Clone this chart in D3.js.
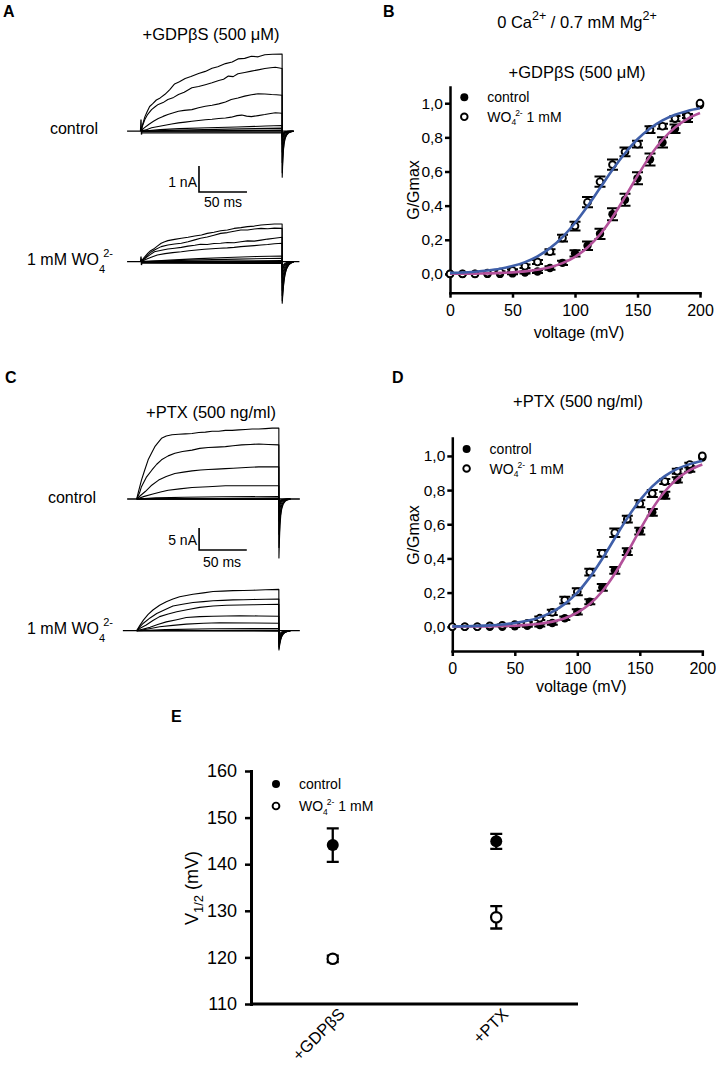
<!DOCTYPE html>
<html><head><meta charset="utf-8">
<script src="https://cdn.jsdelivr.net/npm/d3@7"></script>
<style>body{margin:0;background:#fff;} svg{display:block;}</style>
</head><body>
<svg id="c" width="716" height="1066"></svg>
<script>
// ================= DATA =================
const voltages = [0,10,20,30,40,50,60,70,80,90,100,110,120,130,140,150,160,170,180,190,200];
const voltageTicks = [0,50,100,150,200];
const gvTicks = [0,0.2,0.4,0.6,0.8,1.0];

// Panel B (+GDPbetaS)
const gdpControl    = [0,0,0,0,0,0.003,0.008,0.014,0.035,0.065,0.12,0.165,0.235,0.35,0.435,0.56,0.67,0.77,0.85,0.91,0.99];
const gdpControlErr = [0,0,0,0,0,0.005,0.006,0.008,0.01,0.012,0.018,0.025,0.03,0.035,0.035,0.035,0.035,0.03,0.025,0.02,0];
const gdpWO4        = [0,0,0,0.005,0.01,0.02,0.045,0.07,0.13,0.21,0.28,0.42,0.54,0.64,0.715,0.76,0.845,0.865,0.91,0.925,1.0];
const gdpWO4Err     = [0,0,0,0,0.005,0.008,0.01,0.012,0.015,0.02,0.025,0.03,0.03,0.03,0.025,0.02,0.02,0.015,0.015,0.012,0];
const gdpFitControl = [0.001,0.001,0.002,0.003,0.006,0.009,0.015,0.024,0.039,0.063,0.100,0.155,0.231,0.332,0.450,0.574,0.690,0.786,0.858,0.909,0.943];
const gdpFitWO4     = [0.006,0.008,0.013,0.020,0.030,0.046,0.069,0.103,0.151,0.216,0.298,0.396,0.503,0.610,0.707,0.789,0.852,0.899,0.932,0.955,0.970];

// Panel D (+PTX)
const ptxControl    = [0,0,0,0,0,0.003,0.005,0.01,0.022,0.05,0.087,0.146,0.23,0.33,0.44,0.56,0.67,0.77,0.86,0.92,0.99];
const ptxControlErr = [0,0,0,0,0,0.005,0.005,0.008,0.01,0.01,0.015,0.015,0.02,0.02,0.02,0.02,0.02,0.02,0.015,0.012,0];
const ptxWO4        = [0,0,0,0.005,0.008,0.012,0.02,0.05,0.084,0.156,0.205,0.32,0.43,0.55,0.63,0.72,0.78,0.85,0.91,0.95,1.0];
const ptxWO4Err     = [0,0,0,0,0.005,0.005,0.008,0.01,0.015,0.02,0.02,0.02,0.02,0.025,0.02,0.02,0.02,0.015,0.015,0.01,0];
const ptxFitControl = [0.000,0.001,0.001,0.002,0.004,0.006,0.011,0.018,0.030,0.050,0.083,0.133,0.208,0.310,0.434,0.566,0.690,0.792,0.867,0.917,0.950];
const ptxFitWO4     = [0.002,0.003,0.005,0.008,0.013,0.022,0.035,0.055,0.087,0.134,0.200,0.289,0.398,0.518,0.636,0.740,0.822,0.882,0.924,0.952,0.970];

// Panel E
const v12Categories = ["+GDPβS", "+PTX"];
const v12Control    = [144.1, 144.9];
const v12ControlErr = [3.6, 1.6];
const v12WO4        = [119.7, 128.6];
const v12WO4Err     = [0.7, 2.4];
const v12Ticks      = [110,120,130,140,150,160];

// Panel A current traces [time ms, current nA]
const gdpCtlTraces = [
 [[0,0],[2,0.3],[4,0.55],[6,0.72],[9,0.95],[12,1.05],[16,1.2],[20,1.28],[25,1.42],[30,1.6],[35,1.82],[40,1.9],[46,2.03],[52,2.1],[60,2.22],[67,2.3],[74,2.42],[80,2.48],[88,2.6],[95,2.66],[101,2.78],[108,2.8],[115,2.88],[122,2.86],[129,2.94],[137,2.96],[147,2.97]],
 [[0,0],[2,0.25],[4,0.45],[7,0.65],[11,0.83],[15,0.95],[18,1.03],[23,1.1],[28,1.22],[34,1.3],[39,1.41],[45,1.5],[53,1.67],[60,1.72],[67,1.79],[74,1.86],[81,1.95],[86,2.0],[91,2.12],[96,2.1],[101,2.21],[108,2.26],[115,2.31],[122,2.36],[129,2.41],[135,2.44],[140,2.46],[147,2.41]],
 [[0,0],[3,0.12],[8,0.26],[13,0.38],[18,0.49],[23,0.57],[28,0.64],[33,0.7],[39,0.77],[45,0.8],[53,0.83],[60,0.9],[67,0.96],[74,1.0],[81,1.05],[88,1.12],[94,1.22],[101,1.28],[108,1.35],[115,1.4],[122,1.44],[129,1.43],[136,1.41],[141,1.4],[147,1.38]],
 [[0,0],[5,0.05],[11,0.13],[18,0.18],[25,0.23],[32,0.28],[39,0.32],[46,0.35],[53,0.38],[60,0.41],[67,0.44],[74,0.46],[81,0.49],[88,0.51],[94,0.54],[100,0.6],[105,0.62],[110,0.58],[115,0.56],[122,0.6],[129,0.64],[135,0.68],[140,0.71],[147,0.69]],
 [[0,0],[20,0.06],[40,0.1],[70,0.13],[100,0.16],[130,0.2],[147,0.22]],
 [[0,0],[40,0.04],[90,0.08],[147,0.12]],
 [[0,0],[147,0.04]],
 [[0,-0.03],[147,-0.04]],
 [[0,-0.07],[147,-0.07]]
];
const gdpCtlTailPeaks = [-1.77,-1.6,-1.2,-0.8,-0.5,-0.35,-0.25,-0.2,-0.15];
const gdpCtlOnset = [[-0.5,0],[0,0.45],[0.5,-0.13],[1.2,0.1],[2,0]];

const gdpWoTraces = [
 [[0,0],[3,0.15],[7,0.32],[10,0.42],[14,0.51],[17,0.6],[21,0.71],[24,0.76],[28,0.81],[35,0.86],[42,0.9],[49,0.94],[56,0.99],[63,1.03],[69,1.09],[76,1.13],[83,1.19],[90,1.22],[97,1.28],[104,1.31],[111,1.35],[118,1.37],[125,1.41],[132,1.43],[139,1.45],[147,1.45]],
 [[0,0],[4,0.14],[7,0.26],[11,0.38],[15,0.47],[21,0.58],[28,0.64],[35,0.68],[42,0.71],[49,0.77],[56,0.84],[62,0.9],[69,0.95],[76,1.02],[83,1.09],[90,1.12],[97,1.17],[104,1.22],[111,1.22],[118,1.26],[125,1.28],[132,1.27],[139,1.29],[147,1.28]],
 [[0,0],[5,0.15],[10,0.28],[14,0.38],[20,0.43],[28,0.49],[35,0.52],[42,0.55],[49,0.6],[56,0.63],[62,0.67],[69,0.66],[76,0.7],[83,0.71],[90,0.74],[97,0.73],[104,0.77],[111,0.8],[118,0.79],[125,0.83],[132,0.87],[139,0.9],[147,0.94]],
 [[0,0],[6,0.1],[12,0.19],[17,0.26],[25,0.31],[33,0.35],[42,0.38],[50,0.42],[58,0.45],[66,0.48],[74,0.5],[82,0.52],[90,0.53],[97,0.55],[104,0.58],[111,0.6],[118,0.62],[125,0.64],[132,0.66],[139,0.69],[147,0.71]],
 [[0,0],[30,0.06],[60,0.12],[90,0.16],[120,0.2],[147,0.22]],
 [[0,0],[50,0.06],[100,0.1],[147,0.13]],
 [[0,0.02],[147,0.04]],
 [[0,-0.03],[147,-0.03]],
 [[0,-0.06],[147,-0.07]]
];
const gdpWoTailPeaks = [-1.6,-1.5,-1.3,-1.1,-0.8,-0.6,-0.4,-0.3,-0.2];
const gdpWoOnset = [[-0.5,0],[0,0.2],[0.5,-0.13],[1.2,0.05],[2,0]];

// Panel C current traces
const ptxCtlTraces = [
 [[0,0],[2,1.8],[5,4.3],[8,6.3],[12,8.9],[16,10.6],[19,11.9],[23,13.0],[26,13.8],[31,14.3],[37,14.6],[44,14.7],[51,14.8],[58,14.9],[65,15.1],[72,15.2],[79,15.4],[86,15.4],[93,15.6],[100,15.6],[107,15.7],[114,15.8],[121,15.9],[128,15.9],[135,16.0],[142,16.1],[149,16.1]],
 [[0,0],[3,1.4],[5,2.8],[10,4.9],[16,6.6],[21,7.9],[26,8.9],[33,9.8],[40,10.4],[48,10.8],[58,11.1],[66,11.5],[75,11.7],[84,11.8],[93,11.9],[101,12.1],[110,12.3],[119,12.4],[128,12.5],[138,12.4],[149,12.3]],
 [[0,0],[4,0.8],[9,1.7],[15,3.0],[23,4.3],[31,5.1],[40,5.8],[49,6.1],[58,6.4],[67,6.6],[75,6.7],[84,6.8],[93,6.9],[101,7.0],[110,7.1],[119,7.2],[128,7.3],[138,7.3],[149,7.3]],
 [[0,0],[8,0.6],[16,1.1],[25,1.6],[33,2.0],[45,2.3],[58,2.6],[75,2.8],[93,3.0],[110,3.0],[128,3.0],[149,3.0]],
 [[0,0],[20,0.25],[50,0.4],[90,0.5],[149,0.55]],
 [[0,0],[149,0.2]],
 [[0,0],[149,0.05]],
 [[0,0],[149,-0.1]]
];
const ptxCtlTailPeaks = [-13.4,-11,-8,-5,-3,-2,-1.5,-1];

const ptxWoTraces = [
 [[0,0],[3,1.1],[7,2.4],[12,3.7],[17,4.7],[24,5.8],[31,6.6],[38,7.2],[45,7.7],[52,8.0],[59,8.3],[70,8.6],[80,8.9],[90,9.0],[101,9.1],[112,9.15],[122,9.2],[135,9.3],[149,9.4]],
 [[0,0],[3,0.8],[7,1.7],[14,2.9],[21,3.9],[30,4.8],[38,5.6],[48,6.0],[59,6.4],[70,6.6],[80,6.8],[90,6.9],[101,7.0],[112,7.05],[122,7.1],[135,7.15],[149,7.2]],
 [[0,0],[4,0.6],[10,1.3],[17,2.3],[24,3.2],[33,3.8],[42,4.3],[54,4.8],[66,5.3],[80,5.6],[94,5.8],[108,5.85],[122,5.9],[135,5.95],[149,6.0]],
 [[0,0],[7,0.4],[14,0.76],[22,1.4],[31,2.0],[42,2.5],[52,3.0],[66,3.2],[80,3.3],[94,3.35],[108,3.4],[128,3.35],[149,3.3]],
 [[0,0],[12,0.4],[24,0.9],[38,1.2],[52,1.5],[70,1.7],[87,1.8],[120,1.75],[149,1.7]],
 [[0,0],[30,0.25],[80,0.45],[149,0.5]],
 [[0,0],[149,0.1]],
 [[0,0],[149,-0.1]]
];
const ptxWoTailPeaks = [-4.4,-4,-3.6,-3,-2.5,-2,-1.5,-1];

// tail current decay shapes [ms after pulse end, fraction of peak]
const tailShapeFast = [[0.1,1],[0.6,0.7],[1.2,0.45],[2,0.28],[3,0.17],[4.5,0.09],[6.5,0.04],[9,0.015],[12,0]];
const tailShapeSlow = [[0.1,1],[0.6,0.82],[1.2,0.64],[2,0.46],[3,0.31],[4.5,0.18],[6.5,0.09],[9,0.035],[12,0]];

// ================= DRAWING =================
const FONT = '"Liberation Sans", Arial, Helvetica, sans-serif';
const svg = d3.select("#c");
const BLUE = "#3f5fa9", MAGENTA = "#b3509a";
const commaFmt = d => d3.format(".1f")(d).replace(".", ",");

function txt(x, y, s, size, opts = {}) {
  const t = svg.append("text").attr("x", x).attr("y", y).attr("font-size", size)
    .attr("font-family", FONT).attr("fill", "#000").attr("text-anchor", opts.anchor || "start")
    .attr("font-weight", opts.bold ? "bold" : "normal").text(s);
  return t;
}
function rich(parent, x, y, size, parts, anchor) {
  const t = parent.append("text").attr("x", x).attr("y", y).attr("font-size", size)
    .attr("font-family", FONT).attr("fill", "#000").attr("text-anchor", anchor || "start");
  let cur = 0;
  parts.forEach(p => {
    const ts = t.append("tspan").text(p.t);
    const target = p.s || 0;
    if (target - cur !== 0) ts.attr("dy", target - cur);
    cur = target;
    if (p.fs) ts.attr("font-size", p.fs);
    if (p.dx) ts.attr("dx", p.dx);
  });
  return t;
}
function styleAxis(g, fs) {
  g.select(".domain").attr("stroke", "#000").attr("stroke-width", 2.5).attr("stroke-linecap", "square");
  g.selectAll(".tick line").attr("stroke", "#000").attr("stroke-width", 2.5);
  g.selectAll(".tick text").attr("font-size", fs).attr("font-family", FONT).attr("fill", "#000");
}

// ---------- panel letters & titles ----------
txt(3, 17, "A", 16, {bold: true});
txt(383, 17, "B", 16, {bold: true});
txt(5, 383, "C", 16, {bold: true});
txt(392, 383, "D", 16, {bold: true});
txt(171, 722, "E", 16, {bold: true});

txt(211, 40, "+GDPβS (500 μM)", 16.5, {anchor: "middle"});
txt(211, 418, "+PTX (500 ng/ml)", 16.5, {anchor: "middle"});
txt(577, 78, "+GDPβS (500 μM)", 16.5, {anchor: "middle"});
txt(578, 407, "+PTX (500 ng/ml)", 16.5, {anchor: "middle"});
rich(svg, 577, 28, 16.5, [{t: "0 Ca"}, {t: "2+", s: -8, fs: 12.5}, {t: " / 0.7 mM Mg", s: 0}, {t: "2+", s: -8, fs: 12.5}], "middle");

// ---------- current traces ----------
function drawTraceSet(cfg) {
  const g = svg.append("g");
  const x = d3.scaleLinear().domain([0, 50]).range([cfg.x0, cfg.x0 + cfg.px50]);
  const y = d3.scaleLinear().domain([0, 1]).range([cfg.base, cfg.base - cfg.pxPerNA]);
  const line = d3.line().x(d => x(d[0])).y(d => y(d[1]));
  g.append("path").datum([[cfg.tStart, 0], [cfg.tEnd, 0]]).attr("d", line)
    .attr("stroke", "#000").attr("stroke-width", 1.3).attr("fill", "none");
  cfg.traces.forEach((tr, i) => {
    const pe = tr[tr.length - 1][0];
    const pts = tr.concat(cfg.tail.map(s => [pe + s[0], cfg.peaks[i] * s[1]]));
    g.append("path").datum(pts).attr("d", line)
      .attr("stroke", "#000").attr("stroke-width", 1.1).attr("fill", "none")
      .attr("stroke-linejoin", "round");
  });
  if (cfg.onset) {
    g.append("path").datum(cfg.onset).attr("d", line)
      .attr("stroke", "#000").attr("stroke-width", 1.3).attr("fill", "none");
  }
  return {x, y};
}

const aCtl = drawTraceSet({x0: 141, px50: 48, base: 131.2, pxPerNA: 26, tStart: -14.5, tEnd: 158,
  traces: gdpCtlTraces, peaks: gdpCtlTailPeaks, tail: tailShapeFast, onset: gdpCtlOnset});
drawTraceSet({x0: 141, px50: 48, base: 261.7, pxPerNA: 26, tStart: -14.5, tEnd: 165,
  traces: gdpWoTraces, peaks: gdpWoTailPeaks, tail: tailShapeSlow, onset: gdpWoOnset});
const cCtl = drawTraceSet({x0: 136.7, px50: 47.7, base: 499, pxPerNA: 4.4, tStart: -10, tEnd: 171,
  traces: ptxCtlTraces, peaks: ptxCtlTailPeaks, tail: tailShapeFast});
drawTraceSet({x0: 136.7, px50: 47.7, base: 630.7, pxPerNA: 4.4, tStart: -14.5, tEnd: 171,
  traces: ptxWoTraces, peaks: ptxWoTailPeaks, tail: tailShapeSlow});

// scale bars
function scaleBar(sc, t0, i0, dt, di) {
  const xa = sc.x(t0), ya = sc.y(i0);
  svg.append("path").attr("d", `M${xa},${sc.y(i0 + di)}V${ya}H${sc.x(t0 + dt)}`)
    .attr("stroke", "#000").attr("stroke-width", 1.6).attr("fill", "none");
}
scaleBar(aCtl, 60.4, -2.34, 50, 1);
scaleBar(cCtl, 65.4, -11.6, 50, 5);
txt(197, 187, "1 nA", 14, {anchor: "end"});
txt(223, 207, "50 ms", 14, {anchor: "middle"});
txt(197, 545, "5 nA", 14, {anchor: "end"});
txt(222, 567, "50 ms", 14, {anchor: "middle"});

txt(98, 133.5, "control", 16, {anchor: "end"});
txt(96, 503, "control", 16, {anchor: "end"});
rich(svg, 27, 265, 16, [{t: "1 mM WO"}, {t: "4", s: 8, fs: 11}, {t: "2-", s: -8, fs: 11, dx: -2}]);
rich(svg, 27, 634, 16, [{t: "1 mM WO"}, {t: "4", s: 8, fs: 11}, {t: "2-", s: -8, fs: 11, dx: -2}]);

// ---------- G/Gmax panels ----------
function woLegend(g, x, y, size) {
  rich(g, x, y, size, [{t: "WO"}, {t: "4", s: 3.5, fs: 8.5}, {t: "2-", s: -6, fs: 8.5, dx: -1}, {t: " 1 mM", s: 0}]);
}
function drawGV(cfg) {
  const g = svg.append("g");
  const x = d3.scaleLinear().domain([0, 200]).range(cfg.xRange);
  const y = d3.scaleLinear().domain(cfg.yDomain).range(cfg.yRange);
  const gx = g.append("g").attr("transform", `translate(0,${cfg.yRange[0]})`)
    .call(d3.axisBottom(x).tickValues(voltageTicks).tickSize(5).tickSizeOuter(0).tickPadding(7));
  styleAxis(gx, 16);
  const gy = g.append("g").attr("transform", `translate(${cfg.xRange[0]},0)`)
    .call(d3.axisLeft(y).tickValues(gvTicks).tickFormat(commaFmt).tickSize(5).tickSizeOuter(0).tickPadding(2));
  styleAxis(gy, 15.5);

  const series = [
    {vals: cfg.ctl, err: cfg.ctlErr, filled: true},
    {vals: cfg.wo, err: cfg.woErr, filled: false}
  ];
  series.forEach(s => {
    const pg = g.append("g");
    voltages.forEach((v, i) => {
      const e = s.err[i], cx = x(v);
      if (e > 0) {
        const y1 = y(s.vals[i] - e), y2 = y(s.vals[i] + e);
        pg.append("path").attr("d", `M${cx},${y1}V${y2}M${cx - 5.5},${y1}H${cx + 5.5}M${cx - 5.5},${y2}H${cx + 5.5}`)
          .attr("stroke", "#000").attr("stroke-width", 2).attr("fill", "none");
      }
    });
    voltages.forEach((v, i) => {
      pg.append("circle").attr("cx", x(v)).attr("cy", y(s.vals[i]))
        .attr("r", s.filled ? 4.2 : 3.4)
        .attr("fill", s.filled ? "#000" : "#fff").attr("stroke", "#000")
        .attr("stroke-width", s.filled ? 0 : 1.9);
    });
  });
  const line = d3.line().x((d, i) => x(voltages[i])).y(d => y(d)).curve(d3.curveMonotoneX);
  g.append("path").datum(cfg.fitCtl).attr("d", line).attr("stroke", MAGENTA).attr("stroke-width", 2.6).attr("fill", "none");
  g.append("path").datum(cfg.fitWo).attr("d", line).attr("stroke", BLUE).attr("stroke-width", 2.6).attr("fill", "none");

  // legend
  const lx = cfg.xRange[0] + 14.3;
  g.append("circle").attr("cx", lx).attr("cy", cfg.legY).attr("r", 4).attr("fill", "#000");
  g.append("circle").attr("cx", lx).attr("cy", cfg.legY + 19.5).attr("r", 3.3).attr("fill", "#fff").attr("stroke", "#000").attr("stroke-width", 1.9);
  g.append("text").attr("x", lx + 23).attr("y", cfg.legY + 5).attr("font-size", 14).attr("font-family", FONT).text("control");
  woLegend(g, lx + 23, cfg.legY + 24.5, 14);

  // labels
  g.append("text").attr("transform", `translate(${cfg.ylabX},${cfg.ylabY}) rotate(-90)`)
    .attr("text-anchor", "middle").attr("font-size", 16).attr("font-family", FONT).text("G/Gmax");
  g.append("text").attr("x", (cfg.xRange[0] + cfg.xRange[1]) / 2 + 4).attr("y", cfg.xlabY)
    .attr("text-anchor", "middle").attr("font-size", 16).attr("font-family", FONT).text("voltage (mV)");
}

drawGV({xRange: [450, 700], yDomain: [-0.11, 1.095], yRange: [292.7, 87],
  ctl: gdpControl, ctlErr: gdpControlErr, wo: gdpWO4, woErr: gdpWO4Err,
  fitCtl: gdpFitControl, fitWo: gdpFitWO4, legY: 97.3, ylabX: 419, ylabY: 190, xlabY: 338});
drawGV({xRange: [452.3, 702.3], yDomain: [-0.142, 1.105], yRange: [651, 438],
  ctl: ptxControl, ctlErr: ptxControlErr, wo: ptxWO4, woErr: ptxWO4Err,
  fitCtl: ptxFitControl, fitWo: ptxFitWO4, legY: 449, ylabX: 419, ylabY: 535, xlabY: 692});

// ---------- Panel E ----------
(function () {
  const g = svg.append("g");
  const x = d3.scalePoint().domain(v12Categories).range([251, 578]).padding(0.5);
  const y = d3.scaleLinear().domain([110, 160]).range([1004, 771]);
  const gy = g.append("g").attr("transform", "translate(251,0)")
    .call(d3.axisLeft(y).tickValues(v12Ticks).tickSize(6).tickSizeOuter(0).tickPadding(8));
  styleAxis(gy, 18);
  gy.select(".domain").attr("stroke-width", 3);
  g.append("path").attr("d", `M${x.range()[0]},${y(110)}H${x.range()[1]}`)
    .attr("stroke", "#000").attr("stroke-width", 3);
  v12Categories.forEach(c => {
    g.append("text").attr("transform", `translate(${x(c) + 9},${y(110) + 7}) rotate(-45)`)
      .attr("text-anchor", "end").attr("dy", "0.35em").attr("font-size", 16.5).attr("font-family", FONT).text(c);
  });
  const series = [
    {vals: v12Control, err: v12ControlErr, filled: true},
    {vals: v12WO4, err: v12WO4Err, filled: false}
  ];
  series.forEach(s => {
    v12Categories.forEach((c, i) => {
      const cx = x(c), y1 = y(s.vals[i] - s.err[i]), y2 = y(s.vals[i] + s.err[i]);
      g.append("path").attr("d", `M${cx},${y1}V${y2}M${cx - 6},${y1}H${cx + 6}M${cx - 6},${y2}H${cx + 6}`)
        .attr("stroke", "#000").attr("stroke-width", 2.3).attr("fill", "none");
      g.append("circle").attr("cx", cx).attr("cy", y(s.vals[i])).attr("r", s.filled ? 6 : 5.2)
        .attr("fill", s.filled ? "#000" : "#fff").attr("stroke", "#000").attr("stroke-width", s.filled ? 0 : 2.2);
    });
  });
  // legend
  g.append("circle").attr("cx", 276).attr("cy", 784).attr("r", 4).attr("fill", "#000");
  g.append("circle").attr("cx", 276).attr("cy", 806).attr("r", 3.4).attr("fill", "#fff").attr("stroke", "#000").attr("stroke-width", 1.9);
  g.append("text").attr("x", 299).attr("y", 789).attr("font-size", 14).attr("font-family", FONT).text("control");
  woLegend(g, 299, 811, 14);
  // y label
  const yl = g.append("g").attr("transform", "translate(198,888) rotate(-90)");
  rich(yl, 0, 0, 18, [{t: "V"}, {t: "1/2", s: 5, fs: 13}, {t: " (mV)", s: 0}], "middle");
})();
</script>
</body></html>
